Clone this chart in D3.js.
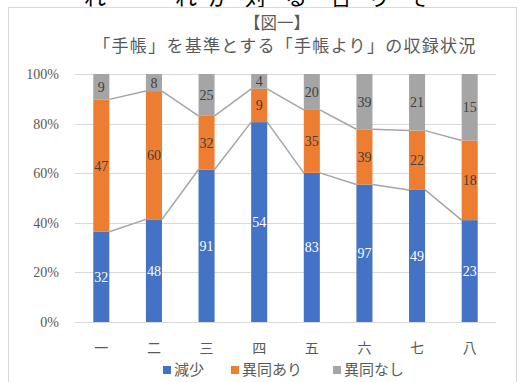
<!DOCTYPE html>
<html>
<head>
<meta charset="utf-8">
<script src="https://cdn.jsdelivr.net/npm/d3@7"></script>
<style>
  body { margin: 0; background: #fff; }
  svg text { font-family: "Liberation Serif", "Noto Sans CJK JP", serif; }
</style>
</head>
<body>
<div id="chart"></div>
<script>
// data
var categories = ["一", "二", "三", "四", "五", "六", "七", "八"];
var seriesNames = ["減少", "異同あり", "異同なし"];
var decrease = [32, 48, 91, 54, 83, 97, 49, 23];
var changed = [47, 60, 32, 9, 35, 39, 22, 18];
var unchanged = [9, 8, 25, 4, 20, 39, 21, 15];
var yTicks = [0, 0.2, 0.4, 0.6, 0.8, 1];
var colors = ["#4472C4", "#ED7D31", "#A5A5A5"];
var labelColors = ["#ffffff", "#404040", "#404040"];
// bits of the page text cut off above the chart
var clippedText = [["れ", 95], ["れ", 186], ["が", 219], ["対", 256], ["る", 296], ["合", 341], ["り", 379], ["そ", 419]];

var width = 520, height = 382;
var margin = {top: 74, right: 24, bottom: 60, left: 75};

var svg = d3.select("#chart").append("svg")
    .attr("width", width)
    .attr("height", height);

// page text above the chart frame
svg.selectAll("text.page")
    .data(clippedText)
    .enter().append("text")
        .attr("class", "page")
        .attr("x", function(d) { return d[1]; })
        .attr("y", 5)
        .attr("text-anchor", "middle")
        .style("font-size", "22px")
        .style("fill", "#000")
        .text(function(d) { return d[0]; });

// chart frame
svg.append("rect")
    .attr("x", 8.5).attr("y", 7.5)
    .attr("width", 508).attr("height", 380)
    .attr("fill", "#fff")
    .attr("stroke", "#D9D9D9");

svg.append("text")
    .attr("x", 277).attr("y", 29)
    .attr("text-anchor", "middle")
    .style("font-size", "16.5px")
    .style("fill", "#595959")
    .text("【図一】");

svg.append("text")
    .attr("x", 285).attr("y", 52)
    .attr("text-anchor", "middle")
    .style("font-size", "17px")
    .style("letter-spacing", "1.3px")
    .style("fill", "#595959")
    .text("「手帳」を基準とする「手帳より」の収録状況");

var plotW = 496 - margin.left;
var plotH = 322 - margin.top;

var x = d3.scaleBand()
    .domain(categories)
    .range([margin.left, margin.left + plotW])
    .paddingInner(0.695)
    .paddingOuter(0.3475);

var y = d3.scaleLinear()
    .domain([0, 1])
    .range([margin.top + plotH, margin.top]);

// gridlines
svg.append("g")
    .selectAll("line")
    .data(yTicks)
    .enter().append("line")
        .attr("x1", margin.left)
        .attr("x2", margin.left + plotW)
        .attr("y1", function(d) { return Math.round(y(d)) + 0.5; })
        .attr("y2", function(d) { return Math.round(y(d)) + 0.5; })
        .attr("stroke", "#D9D9D9")
        .attr("stroke-width", 1);

// y tick labels
svg.append("g")
    .selectAll("text")
    .data(yTicks)
    .enter().append("text")
        .attr("x", 59)
        .attr("y", function(d) { return y(d) + 5; })
        .attr("text-anchor", "end")
        .style("font-size", "14px")
        .style("fill", "#595959")
        .text(d3.format(".0%"));

// x labels
svg.append("g")
    .selectAll("text")
    .data(categories)
    .enter().append("text")
        .attr("x", function(d) { return x(d) + x.bandwidth() / 2; })
        .attr("y", 353)
        .attr("text-anchor", "middle")
        .style("font-size", "14px")
        .style("fill", "#595959")
        .text(function(d) { return d; });

// stack data
var rows = categories.map(function(c, i) {
    return {cat: c, a: decrease[i], b: changed[i], c: unchanged[i]};
});
var stack = d3.stack()
    .keys(["a", "b", "c"])
    .offset(d3.stackOffsetExpand);
var series = stack(rows);

// series lines between bars
var lineGroup = svg.append("g");
[0, 1].forEach(function(k) {
    var s = series[k];
    for (var i = 0; i < s.length - 1; i++) {
        lineGroup.append("line")
            .attr("x1", x(categories[i]) + x.bandwidth())
            .attr("x2", x(categories[i + 1]))
            .attr("y1", y(s[i][1]))
            .attr("y2", y(s[i + 1][1]))
            .attr("stroke", "#A5A5A5")
            .attr("stroke-width", 1.5);
    }
});

var groups = svg.append("g")
    .selectAll("g")
    .data(series)
    .enter().append("g")
        .attr("fill", function(d, i) { return colors[i]; });

groups.selectAll("rect")
    .data(function(d) { return d; })
    .enter().append("rect")
        .attr("x", function(d) { return x(d.data.cat); })
        .attr("width", x.bandwidth())
        .attr("y", function(d) { return y(d[1]); })
        .attr("height", function(d) { return y(d[0]) - y(d[1]); });

// value labels
var raw = [decrease, changed, unchanged];
series.forEach(function(s, k) {
    svg.append("g")
        .selectAll("text")
        .data(s)
        .enter().append("text")
            .attr("x", function(d) { return x(d.data.cat) + x.bandwidth() / 2; })
            .attr("y", function(d) { return (y(d[0]) + y(d[1])) / 2 + 5; })
            .attr("text-anchor", "middle")
            .style("font-size", "14px")
            .style("fill", labelColors[k])
            .text(function(d, i) { return raw[k][i]; });
});

// legend
var legendX = [163, 231, 333];
var legend = svg.append("g")
    .selectAll("g")
    .data(seriesNames)
    .enter().append("g")
        .attr("transform", function(d, i) { return "translate(" + legendX[i] + ",370)"; });

legend.append("rect")
    .attr("x", 0).attr("y", -4)
    .attr("width", 8).attr("height", 8)
    .attr("fill", function(d, i) { return colors[i]; });

legend.append("text")
    .attr("x", 11)
    .attr("y", 5)
    .style("font-size", "15px")
    .style("fill", "#595959")
    .text(function(d) { return d; });
</script>
</body>
</html>
